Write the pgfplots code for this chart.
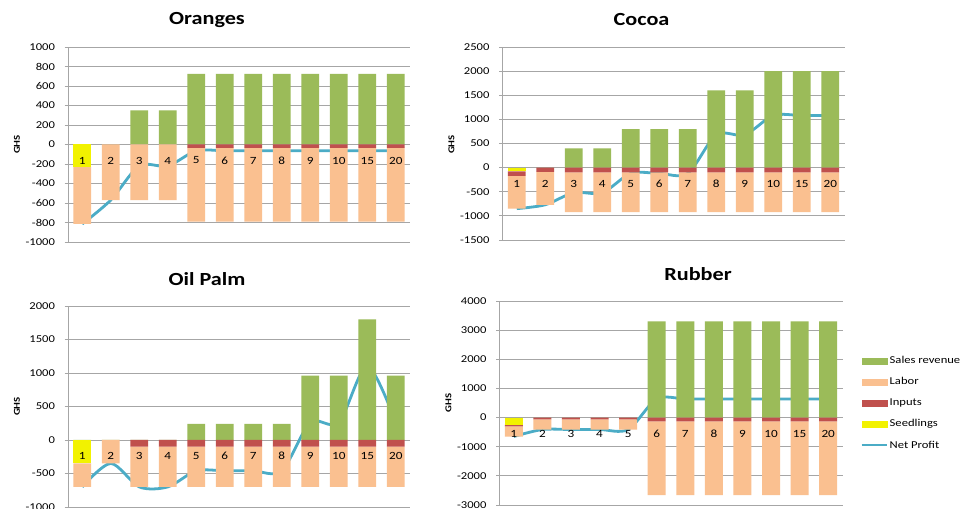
\documentclass[border=0pt]{standalone}
\usepackage{fontspec}
\setmainfont{Carlito}[FakeStretch=1.2]
\usepackage{pgfplots}
\usepackage{pgfplotstable}
\pgfplotsset{compat=1.18}

\definecolor{salesc}{HTML}{9BBB59}
\definecolor{laborc}{HTML}{FAC090}
\definecolor{inputc}{HTML}{C0504D}
\definecolor{seedc}{HTML}{F2F200}
\definecolor{netc}{HTML}{4BACC6}
\definecolor{gridc}{HTML}{A6A6A6}

% year labels, written on the zero line
\pgfplotstableread{
x y yr
0 0 1
1 0 2
2 0 3
3 0 4
4 0 5
5 0 6
6 0 7
7 0 8
8 0 9
9 0 10
10 0 15
11 0 20
}\years

% per-year costs (negative), sales revenue and net profit, GHS
% x = position of the year on the axis (years 1-10, 15, 20)
\pgfplotstableread{
x seed inputs labor sales net
0 -230 0 -585 0 -815
1 0 0 -570 0 -570
2 0 0 -570 350 -220
3 0 0 -570 350 -220
4 0 -35 -755 725 -65
5 0 -35 -755 725 -65
6 0 -35 -755 725 -65
7 0 -35 -755 725 -65
8 0 -35 -755 725 -65
9 0 -35 -755 725 -65
10 0 -35 -755 725 -65
11 0 -35 -755 725 -65
}\oranges

\pgfplotstableread{
x seed inputs labor sales net
0 -80 -90 -680 0 -850
1 0 -90 -680 0 -770
2 0 -100 -820 400 -520
3 0 -100 -820 400 -520
4 0 -100 -820 800 -120
5 0 -100 -820 800 -120
6 0 -100 -820 800 -120
7 0 -100 -820 1600 680
8 0 -100 -820 1600 680
9 0 -100 -820 2000 1080
10 0 -100 -820 2000 1080
11 0 -100 -820 2000 1080
}\cocoa

\pgfplotstableread{
x seed inputs labor sales net
0 -350 0 -350 0 -700
1 0 0 -350 0 -350
2 0 -100 -600 0 -700
3 0 -100 -600 0 -700
4 0 -100 -600 240 -460
5 0 -100 -600 240 -460
6 0 -100 -600 240 -460
7 0 -100 -600 240 -460
8 0 -100 -600 960 260
9 0 -100 -600 960 260
10 0 -100 -600 1800 1100
11 0 -100 -600 960 260
}\oilpalm

\pgfplotstableread{
x seed inputs labor sales net
0 -240 -60 -350 0 -650
1 0 -60 -350 0 -410
2 0 -60 -350 0 -410
3 0 -60 -350 0 -410
4 0 -60 -350 0 -410
5 0 -130 -2530 3300 640
6 0 -130 -2530 3300 640
7 0 -130 -2530 3300 640
8 0 -130 -2530 3300 640
9 0 -130 -2530 3300 640
10 0 -130 -2530 3300 640
11 0 -130 -2530 3300 640
}\rubber

\pgfplotsset{
  farm/.style={
    scale only axis,
    ybar stacked, bar width=0.63,
    xmin=-0.5, xmax=11.5,
    xtick=\empty,
    axis y line=left, axis x line=middle,
    axis line style={-, draw=gridc, line width=0.75pt},
    ytick style={draw=gridc, line width=0.75pt},
    tick align=outside, major tick length=3.5pt,
    ymajorgrids, grid style={draw=gridc, line width=0.75pt},
    scaled y ticks=false,
    yticklabel style={font=\fontsize{10.5}{12}\selectfont,
      /pgf/number format/1000 sep={},
      /pgf/number format/assume math mode=true, xshift=-6pt},
    ylabel={GHS},
    every axis y label/.style={at={(rel axis cs:0,0.5)}, xshift=-51pt, rotate=90,
      anchor=center, font=\bfseries\fontsize{9}{10}\selectfont},
    every axis title/.style={at={(rel axis cs:0.5,1)}, anchor=center, yshift=27pt,
      font=\bfseries\fontsize{18.5}{20}\selectfont},
  },
  bar/.style={draw=none, fill=#1},
  netline/.style={smooth, stack plots=false, draw=netc, line width=2.8pt, mark=none, fill=none},
  yearlabels/.style={stack plots=false, only marks, mark=none, draw=none, fill=none,
    point meta=explicit symbolic, nodes near coords,
    nodes near coords style={anchor=center, yshift=-16pt, font=\fontsize{11}{13}\selectfont,
      text=black}},
  swatch/.style={legend image code/.code={\fill[#1] (0pt,-3pt) rectangle (25pt,3pt);}},
}

\begin{document}
\begin{tikzpicture}
\path[use as bounding box, fill=white] (0pt,0pt) rectangle (962pt,509pt);

\begin{axis}[farm, at={(68pt,267pt)}, anchor=south west, width=342pt, height=195pt,
  ymin=-1000, ymax=1000, ytick distance=200, title=Oranges, title style={xshift=-32pt}]
  \addplot[bar=seedc] table[x=x,y=seed]{\oranges};
  \addplot[bar=inputc] table[x=x,y=inputs]{\oranges};
  \addplot[bar=laborc] table[x=x,y=labor]{\oranges};
  \addplot[bar=salesc, stack plots=false] table[x=x,y=sales]{\oranges};
  \addplot[yearlabels] table[x=x,y=y,meta=yr]{\years};
  \addplot[netline] table[x=x,y=net]{\oranges};
\end{axis}

\begin{axis}[farm, at={(502.5pt,269pt)}, anchor=south west, width=342pt, height=193pt,
  ymin=-1500, ymax=2500, ytick distance=500, title=Cocoa, title style={xshift=-32pt},
  every axis y label/.append style={xshift=-1pt}]
  \addplot[bar=seedc] table[x=x,y=seed]{\cocoa};
  \addplot[bar=inputc] table[x=x,y=inputs]{\cocoa};
  \addplot[bar=laborc] table[x=x,y=labor]{\cocoa};
  \addplot[bar=salesc, stack plots=false] table[x=x,y=sales]{\cocoa};
  \addplot[yearlabels] table[x=x,y=y,meta=yr]{\years};
  \addplot[netline] table[x=x,y=net]{\cocoa};
\end{axis}

\begin{axis}[farm, at={(68pt,2pt)}, anchor=south west, width=342pt, height=201pt,
  ymin=-1000, ymax=2000, ytick distance=500, title=Oil Palm, title style={xshift=-32pt}]
  \addplot[bar=seedc] table[x=x,y=seed]{\oilpalm};
  \addplot[bar=inputc] table[x=x,y=inputs]{\oilpalm};
  \addplot[bar=laborc] table[x=x,y=labor]{\oilpalm};
  \addplot[bar=salesc, stack plots=false] table[x=x,y=sales]{\oilpalm};
  \addplot[yearlabels] table[x=x,y=y,meta=yr]{\years};
  \addplot[netline] table[x=x,y=net]{\oilpalm};
\end{axis}

\begin{axis}[farm, at={(499.5pt,4pt)}, anchor=south west, width=343pt, height=204pt,
  ymin=-3000, ymax=4000, ytick distance=1000, title=Rubber, title style={xshift=27pt},
  legend style={at={(rel axis cs:1,0.5)}, anchor=west, xshift=18pt, draw=none, fill=none,
    font=\fontsize{10.5}{12}\selectfont, row sep=8.5pt, inner sep=0pt},
  legend cell align=left]
  \addlegendimage{swatch=salesc}
  \addlegendentry{Sales revenue}
  \addlegendimage{swatch=laborc}
  \addlegendentry{Labor}
  \addlegendimage{swatch=inputc}
  \addlegendentry{Inputs}
  \addlegendimage{swatch=seedc}
  \addlegendentry{Seedlings}
  \addlegendimage{legend image code/.code={\draw[netc, line width=2pt] (0pt,0pt) -- (25pt,0pt);}}
  \addlegendentry{Net Profit}
  \addplot[bar=seedc] table[x=x,y=seed]{\rubber};
  \addplot[bar=inputc] table[x=x,y=inputs]{\rubber};
  \addplot[bar=laborc] table[x=x,y=labor]{\rubber};
  \addplot[bar=salesc, stack plots=false] table[x=x,y=sales]{\rubber};
  \addplot[yearlabels] table[x=x,y=y,meta=yr]{\years};
  \addplot[netline] table[x=x,y=net]{\rubber};
\end{axis}
\end{tikzpicture}
\end{document}
